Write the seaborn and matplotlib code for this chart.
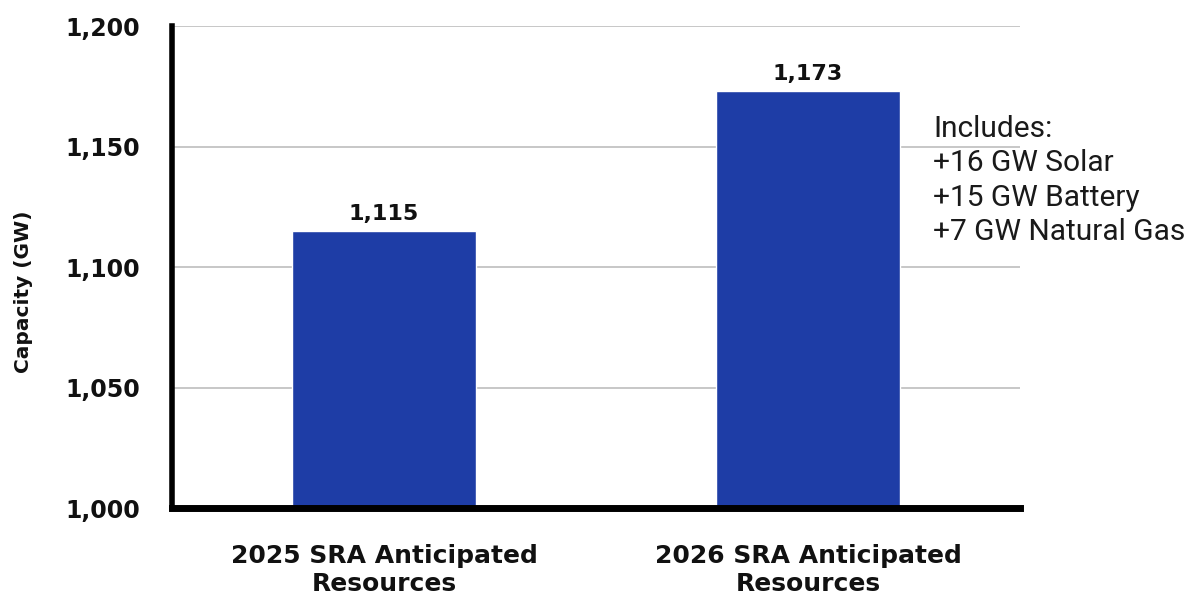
import matplotlib
matplotlib.use("Agg")
import matplotlib.pyplot as plt
import seaborn as sns
import pandas as pd
from matplotlib.ticker import FuncFormatter

categories = ["2025 SRA Anticipated\nResources", "2026 SRA Anticipated\nResources"]
values = [1115, 1173]
value_labels = ["1,115", "1,173"]
y_ticks = [1000, 1050, 1100, 1150, 1200]
note_lines = ["Includes:", "+16 GW Solar", "+15 GW Battery", "+7 GW Natural Gas"]

sns.set_theme(style="white")
plt.rcParams['font.family'] = ['DejaVu Sans']

df = pd.DataFrame({"cat": categories, "val": values})

fig = plt.figure(figsize=(11.95, 6.01), dpi=100)
ax = fig.add_axes([0.144, 0.1547, 0.7096, 0.802])

sns.barplot(data=df, x="cat", y="val", color="#1E3DA6", saturation=1,
            width=0.435, ax=ax, zorder=3)

ax.set_ylim(1000, 1200)
ax.set_xlim(-0.5, 1.5)
ax.set_yticks(y_ticks)
ax.yaxis.set_major_formatter(FuncFormatter(lambda v, p: f"{int(v):,}"))
ax.grid(axis="y", color="#BDBDBD", linewidth=1.2, zorder=0)
ax.grid(axis="x", visible=False)

for s in ["top", "right"]:
    ax.spines[s].set_visible(False)
ax.spines["left"].set_linewidth(4)
ax.spines["left"].set_color("black")
ax.spines["bottom"].set_linewidth(5)
ax.spines["bottom"].set_color("black")
ax.spines["left"].set_zorder(5)
ax.spines["bottom"].set_zorder(5)

ax.tick_params(axis="y", length=0, pad=23, labelsize=17, labelcolor="#111111")
ax.tick_params(axis="x", length=0, pad=26, labelsize=18, labelcolor="#111111")
for lab in ax.get_yticklabels():
    lab.set_fontweight("bold")
for lab in ax.get_xticklabels():
    lab.set_fontweight("bold")
    lab.set_linespacing(1.18)

ax.set_xlabel("")
ax.set_ylabel("Capacity (GW)", fontsize=14.5, fontweight="bold", color="#111111")
ax.yaxis.set_label_coords(-0.164, 0.449)

for i, (v, t) in enumerate(zip(values, value_labels)):
    ax.text(i, v + 3, t, ha="center", va="bottom", fontsize=16, fontweight="bold",
            color="#111111", zorder=6)

ax.text(1.295, 1163, "\n".join(note_lines), ha="left", va="top", fontsize=21.5,
        family=["Roboto", "DejaVu Sans"], linespacing=1.28, color="#1a1a1a",
        clip_on=False, zorder=6)

fig.savefig("out.png", dpi=100)
